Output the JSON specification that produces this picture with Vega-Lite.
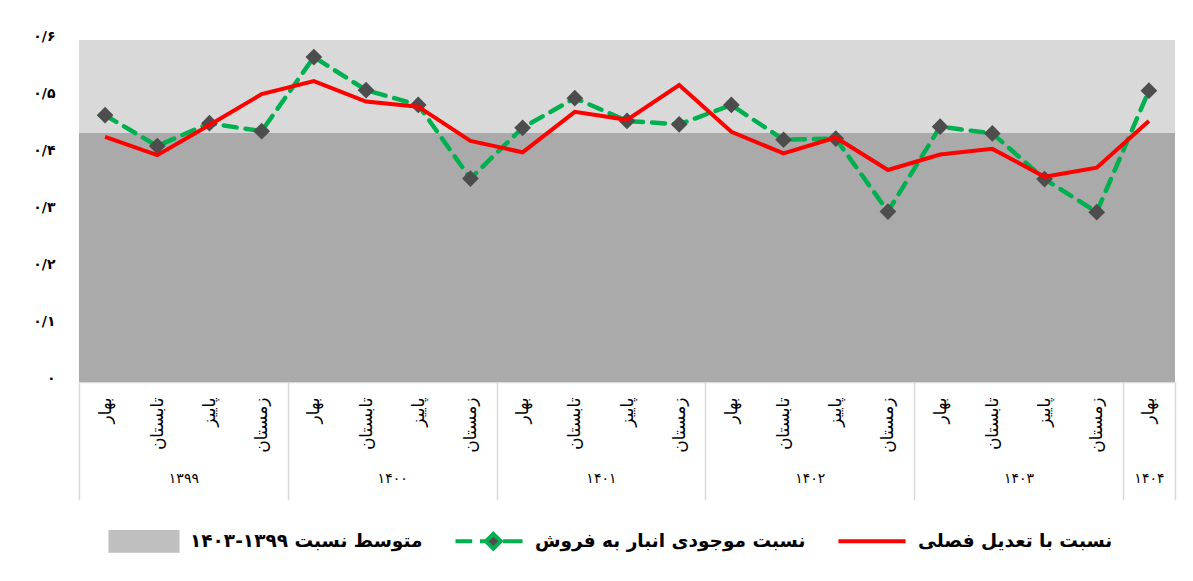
{
  "$schema": "https://vega.github.io/schema/vega-lite/v6.json",
  "autosize": {"type": "none"},
  "width": 1096,
  "height": 342,
  "padding": {"left": 79, "top": 40, "right": 18, "bottom": 199},
  "background": "white",
  "config": {
    "font": "DejaVu Sans",
    "view": {"fill": "#d9d9d9", "stroke": null}
  },
  "datasets": {
    "series": [
      {"i": 0, "year": "1399", "season": "بهار", "ratio": 0.468, "adj": 0.430},
      {"i": 1, "year": "1399", "season": "تابستان", "ratio": 0.414, "adj": 0.398},
      {"i": 2, "year": "1399", "season": "پاییز", "ratio": 0.454, "adj": 0.451},
      {"i": 3, "year": "1399", "season": "زمستان", "ratio": 0.440, "adj": 0.505},
      {"i": 4, "year": "1400", "season": "بهار", "ratio": 0.570, "adj": 0.528},
      {"i": 5, "year": "1400", "season": "تابستان", "ratio": 0.512, "adj": 0.492},
      {"i": 6, "year": "1400", "season": "پاییز", "ratio": 0.486, "adj": 0.483},
      {"i": 7, "year": "1400", "season": "زمستان", "ratio": 0.357, "adj": 0.423},
      {"i": 8, "year": "1401", "season": "بهار", "ratio": 0.446, "adj": 0.403},
      {"i": 9, "year": "1401", "season": "تابستان", "ratio": 0.498, "adj": 0.474},
      {"i": 10, "year": "1401", "season": "پاییز", "ratio": 0.458, "adj": 0.460},
      {"i": 11, "year": "1401", "season": "زمستان", "ratio": 0.452, "adj": 0.521},
      {"i": 12, "year": "1402", "season": "بهار", "ratio": 0.486, "adj": 0.439},
      {"i": 13, "year": "1402", "season": "تابستان", "ratio": 0.425, "adj": 0.401},
      {"i": 14, "year": "1402", "season": "پاییز", "ratio": 0.427, "adj": 0.429},
      {"i": 15, "year": "1402", "season": "زمستان", "ratio": 0.299, "adj": 0.372},
      {"i": 16, "year": "1403", "season": "بهار", "ratio": 0.448, "adj": 0.399},
      {"i": 17, "year": "1403", "season": "تابستان", "ratio": 0.436, "adj": 0.409},
      {"i": 18, "year": "1403", "season": "پاییز", "ratio": 0.356, "adj": 0.360},
      {"i": 19, "year": "1403", "season": "زمستان", "ratio": 0.298, "adj": 0.376},
      {"i": 20, "year": "1404", "season": "بهار", "ratio": 0.511, "adj": 0.458}
    ],
    "average": [{"avg": 0.437}]
  },
  "layer": [
    {
      "data": {"name": "average"},
      "mark": {"type": "rect", "color": "#aaaaaa"},
      "encoding": {
        "y": {"field": "avg", "type": "quantitative",
          "scale": {"domain": [0, 0.6], "nice": false},
          "axis": {"title": null, "values": [0, 0.1, 0.2, 0.3, 0.4, 0.5, 0.6], "labelExpr": "['۰','۰/۱','۰/۲','۰/۳','۰/۴','۰/۵','۰/۶'][round(datum.value*10)]", "labelFontWeight": "bold", "labelFontSize": 14, "labelColor": "#000000", "labelPadding": 24, "labelOffset": -4, "ticks": false, "domain": false, "grid": false}},
        "y2": {"datum": 0}
      }
    },
    {
      "data": {"name": "series"},
      "transform": [{"fold": ["ratio"], "as": ["key", "value"]}],
      "mark": {"type": "line", "strokeWidth": 4.5, "strokeDash": [13, 9], "strokeCap": "round"},
      "encoding": {
        "x": {"field": "i", "type": "quantitative",
          "scale": {"domain": [-0.5, 20.5], "nice": false, "zero": false},
          "axis": {"title": null, "values": [0,1,2,3,4,5,6,7,8,9,10,11,12,13,14,15,16,17,18,19,20], "labelExpr": "['بهار','تابستان','پاییز','زمستان'][datum.value % 4]", "labelAngle": -90, "labelFontSize": 17, "labelColor": "#000000", "labelPadding": 15, "ticks": false, "grid": false, "domain": true, "domainColor": "#d9d9d9", "domainWidth": 1.5, "orient": "bottom"}},
        "y": {"field": "value", "type": "quantitative"},
        "color": {"field": "key", "type": "nominal",
          "scale": {"domain": ["avg", "ratio", "adj"], "range": ["#bfbfbf", "#00b050", "#ff0000"]},
          "legend": {
            "title": null, "orient": "bottom", "direction": "horizontal", "offset": -25, "padding": 29,
            "labelExpr": "datum.value == 'avg' ? 'متوسط نسبت ۱۳۹۹-۱۴۰۳' : datum.value == 'ratio' ? 'نسبت موجودی انبار به فروش' : 'نسبت با تعدیل فصلی'",
            "labelFontSize": 18.5, "labelFontWeight": "bold", "labelColor": "#000000", "labelLimit": 400,
            "symbolSize": 4500, "labelOffset": 10, "columnPadding": 24,
            "encode": {"symbols": {"update": {
              "shape": {"signal": "datum.value == 'avg' ? 'M-1,-0.28H1V0.28H-1Z' : datum.value == 'ratio' ? 'M-1,-0.28M1,0.28M-1,0H-0.5M-0.27,0H-0.12M0.42,0H1M0.13,-0.22L0.35,0L0.13,0.22L-0.09,0Z' : 'M-1,-0.28M1,0.28M-1,0H1'"},
              "fill": {"signal": "datum.value == 'avg' ? '#bfbfbf' : datum.value == 'ratio' ? '#4d4d4d' : 'transparent'"},
              "stroke": {"signal": "datum.value == 'avg' ? 'transparent' : datum.value == 'ratio' ? '#00b050' : '#ff0000'"},
              "strokeWidth": {"value": 4},
              "opacity": {"value": 1}
            }}}
          }}
      }
    },
    {
      "data": {"name": "series"},
      "mark": {"type": "point", "shape": "diamond", "filled": true, "size": 280, "color": "#4d4d4d", "opacity": 1},
      "encoding": {
        "x": {"field": "i", "type": "quantitative",
          "axis": {"title": null, "values": [-0.5, 3.5, 7.5, 11.5, 15.5, 19.5, 20.5], "labels": false, "domain": false, "grid": false, "ticks": true, "tickSize": 118, "tickColor": "#d9d9d9", "tickWidth": 1.5, "orient": "bottom"}},
        "y": {"field": "ratio", "type": "quantitative"}
      }
    },
    {
      "data": {"name": "series"},
      "transform": [{"fold": ["adj"], "as": ["key", "value"]}],
      "mark": {"type": "line", "strokeWidth": 4},
      "encoding": {
        "x": {"field": "i", "type": "quantitative",
          "axis": {"title": null, "values": [1.5, 5.5, 9.5, 13.5, 17.5, 20], "labelExpr": "datum.value == 1.5 ? '۱۳۹۹' : datum.value == 5.5 ? '۱۴۰۰' : datum.value == 9.5 ? '۱۴۰۱' : datum.value == 13.5 ? '۱۴۰۲' : datum.value == 17.5 ? '۱۴۰۳' : '۱۴۰۴'", "labelAngle": 0, "labelFontSize": 14, "labelColor": "#000000", "labelPadding": 89, "ticks": false, "grid": false, "domain": false, "orient": "bottom"}},
        "y": {"field": "value", "type": "quantitative"},
        "color": {"field": "key", "type": "nominal"}
      }
    }
  ],
  "resolve": {"axis": {"x": "independent"}}
}
